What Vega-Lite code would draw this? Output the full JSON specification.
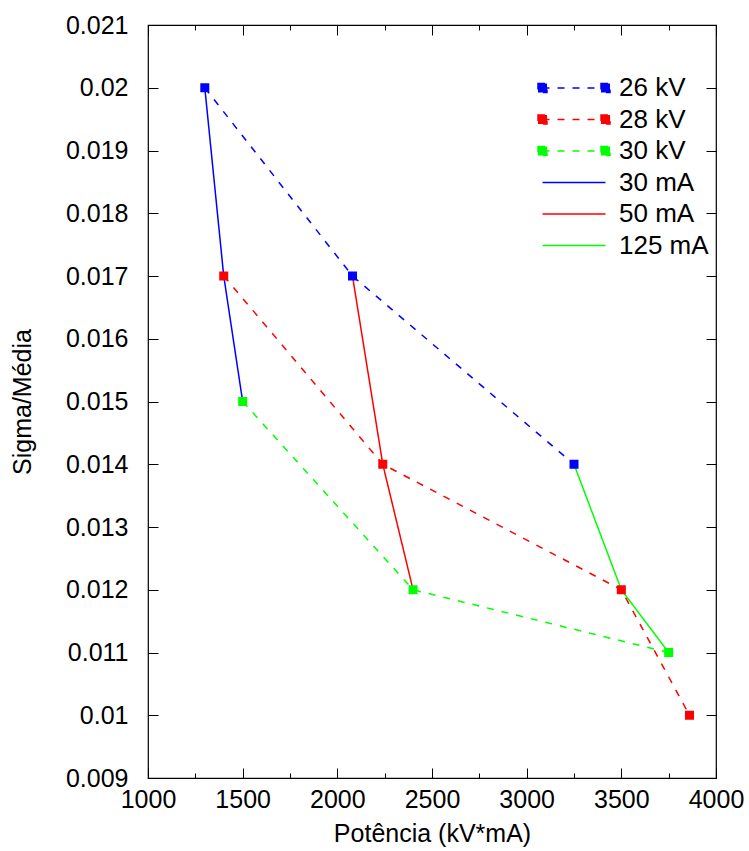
{
  "$schema": "https://vega.github.io/schema/vega-lite/v6.json",
  "width": 568,
  "height": 753,
  "autosize": {"type": "none"},
  "padding": {"left": 148, "top": 25, "right": 33, "bottom": 73},
  "background": "white",
  "config": {
    "view": {"stroke": "#000", "strokeWidth": 1.2},
    "font": "Liberation Sans",
    "axis": {
      "domain": false,
      "grid": false,
      "labelFont": "Liberation Sans",
      "labelFontSize": 25,
      "labelColor": "#000",
      "labelFlush": false,
      "labelOverlap": false,
      "titleFont": "Liberation Sans",
      "titleFontSize": 25,
      "titleFontWeight": "normal",
      "titleColor": "#000",
      "tickColor": "#000",
      "tickWidth": 1
    }
  },
  "datasets": {
    "pts": [
      {"series": "26 kV", "x": 1300, "y": 0.020},
      {"series": "26 kV", "x": 2080, "y": 0.017},
      {"series": "26 kV", "x": 3250, "y": 0.014},
      {"series": "28 kV", "x": 1400, "y": 0.017},
      {"series": "28 kV", "x": 2240, "y": 0.014},
      {"series": "28 kV", "x": 3500, "y": 0.012},
      {"series": "28 kV", "x": 3860, "y": 0.010},
      {"series": "30 kV", "x": 1500, "y": 0.015},
      {"series": "30 kV", "x": 2400, "y": 0.012},
      {"series": "30 kV", "x": 3750, "y": 0.011},
      {"series": "30 mA", "x": 1300, "y": 0.020},
      {"series": "30 mA", "x": 1400, "y": 0.017},
      {"series": "30 mA", "x": 1500, "y": 0.015},
      {"series": "50 mA", "x": 2080, "y": 0.017},
      {"series": "50 mA", "x": 2240, "y": 0.014},
      {"series": "50 mA", "x": 2400, "y": 0.012},
      {"series": "125 mA", "x": 3250, "y": 0.014},
      {"series": "125 mA", "x": 3500, "y": 0.012},
      {"series": "125 mA", "x": 3750, "y": 0.011}
    ]
  },
  "data": {"name": "pts"},
  "resolve": {"axis": {"x": "independent", "y": "independent"}},
  "layer": [
    {
      "mark": {"type": "line", "strokeWidth": 1.5, "clip": true},
      "encoding": {
        "x": {
          "field": "x", "type": "quantitative",
          "scale": {"domain": [1000, 4000], "nice": false, "zero": false},
          "axis": {
            "orient": "bottom",
            "values": [1000, 1500, 2000, 2500, 3000, 3500, 4000],
            "format": "d",
            "tickSize": -10,
            "labelPadding": 19,
            "title": "Potência (kV*mA)",
            "titlePadding": 9
          }
        },
        "y": {
          "field": "y", "type": "quantitative",
          "scale": {"domain": [0.009, 0.021], "nice": false, "zero": false},
          "axis": {
            "orient": "left",
            "values": [0.009, 0.010, 0.011, 0.012, 0.013, 0.014, 0.015, 0.016, 0.017, 0.018, 0.019, 0.020, 0.021],
            "format": "~g",
            "tickSize": -10,
            "labelPadding": 30,
            "title": "Sigma/Média",
            "titlePadding": 30
          }
        },
        "color": {
          "field": "series", "type": "nominal",
          "scale": {
            "domain": ["26 kV", "28 kV", "30 kV", "30 mA", "50 mA", "125 mA"],
            "range": ["#0000ff", "#ff0000", "#00ff00", "#0000ff", "#ff0000", "#00ff00"]
          },
          "legend": {
            "title": null,
            "orient": "none",
            "legendX": 413,
            "legendY": 50,
            "padding": 0,
            "labelFont": "Liberation Sans",
            "labelFontSize": 26,
            "labelColor": "#000",
            "labelOffset": 32,
            "symbolSize": 324,
            "symbolStrokeWidth": 1.5,
            "symbolType": "M-3.5,0H3.5",
            "rowPadding": 5.5,
            "encode": {
              "symbols": {
                "update": {
                  "shape": {"signal": "indexof(datum.value, 'kV') >= 0 ? 'M-3.5,0H3.5M-4,-0.5H-3V0.5H-4ZM3,-0.5H4V0.5H3Z' : 'M-3.5,0H3.5'"},
                  "fill": {"signal": "datum.value === '26 kV' ? '#0000ff' : datum.value === '28 kV' ? '#ff0000' : datum.value === '30 kV' ? '#00ff00' : 'transparent'"},
                  "fillOpacity": {"value": 1}
                }
              }
            }
          }
        },
        "strokeDash": {
          "field": "series", "type": "nominal",
          "scale": {
            "domain": ["26 kV", "28 kV", "30 kV", "30 mA", "50 mA", "125 mA"],
            "range": [[7, 8], [7, 8], [7, 8], [1, 0], [1, 0], [1, 0]]
          },
          "legend": {
            "title": null,
            "orient": "none",
            "legendX": 413,
            "legendY": 50
          }
        }
      }
    },
    {
      "transform": [{"filter": "indexof(datum.series, 'kV') >= 0"}],
      "mark": {"type": "square", "size": 81, "filled": true, "opacity": 1},
      "encoding": {
        "x": {
          "field": "x", "type": "quantitative",
          "axis": {"orient": "top", "values": [1000, 1500, 2000, 2500, 3000, 3500, 4000], "labels": false, "tickSize": -10, "title": null}
        },
        "y": {
          "field": "y", "type": "quantitative",
          "axis": {"orient": "right", "values": [0.009, 0.010, 0.011, 0.012, 0.013, 0.014, 0.015, 0.016, 0.017, 0.018, 0.019, 0.020, 0.021], "labels": false, "tickSize": -10, "title": null}
        },
        "color": {"field": "series", "type": "nominal", "legend": null}
      }
    },
    {
      "transform": [{"filter": "indexof(datum.series, 'kV') >= 0"}],
      "mark": {"type": "square", "size": 81, "filled": true, "opacity": 0},
      "encoding": {
        "x": {
          "field": "x", "type": "quantitative",
          "axis": {"orient": "bottom", "values": [1250, 1750, 2250, 2750, 3250, 3750], "labels": false, "tickSize": -5, "title": null}
        },
        "y": {"field": "y", "type": "quantitative", "axis": null},
        "color": {"field": "series", "type": "nominal", "legend": null}
      }
    },
    {
      "transform": [{"filter": "indexof(datum.series, 'kV') >= 0"}],
      "mark": {"type": "square", "size": 81, "filled": true, "opacity": 0},
      "encoding": {
        "x": {
          "field": "x", "type": "quantitative",
          "axis": {"orient": "top", "values": [1250, 1750, 2250, 2750, 3250, 3750], "labels": false, "tickSize": -5, "title": null}
        },
        "y": {"field": "y", "type": "quantitative", "axis": null},
        "color": {"field": "series", "type": "nominal", "legend": null}
      }
    }
  ]
}
